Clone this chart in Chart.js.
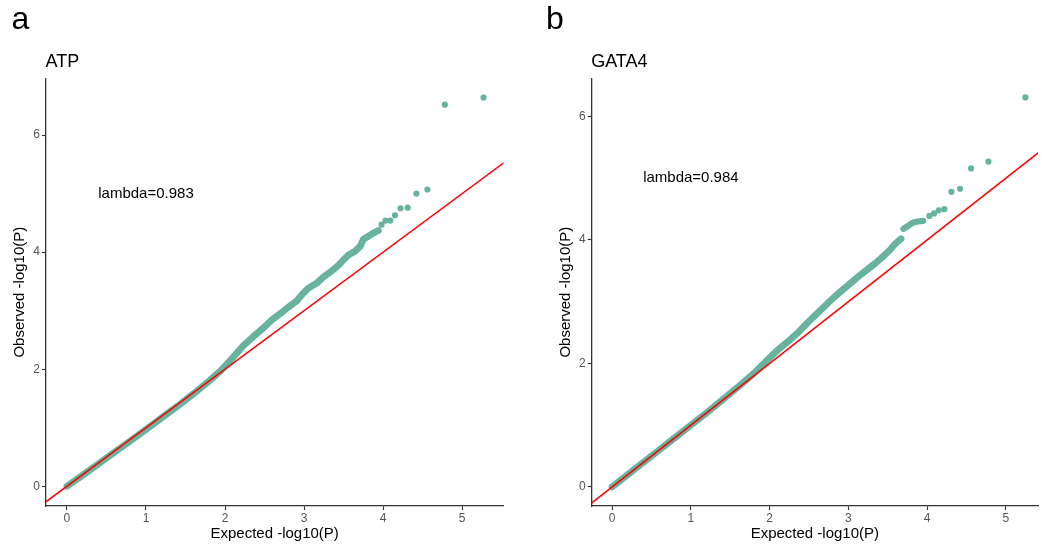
<!DOCTYPE html>
<html>
<head>
<meta charset="utf-8">
<script src="https://cdn.jsdelivr.net/npm/chart.js@4/dist/chart.umd.min.js"></script>
<style>
  html, body { margin: 0; padding: 0; background: #fff; }
  #wrap { position: relative; width: 1042px; height: 550px; overflow: hidden; }
  .panel { position: absolute; top: 0; width: 521px; height: 550px; }
</style>
</head>
<body>
<div id="wrap">
  <div class="panel" style="left:0"><canvas id="chartA" width="521" height="550"></canvas></div>
  <div class="panel" style="left:521px"><canvas id="chartB" width="521" height="550"></canvas></div>
</div>
<script>
// tick labels
const xTicks = [0, 1, 2, 3, 4, 5];
const yTicks = [0, 2, 4, 6];

// ATP: dense part of the QQ band (expected, observed)
const atpDenseX = [0, 0.2, 0.4, 0.6, 0.8, 1.0, 1.2, 1.4, 1.6, 1.8, 1.95, 2.1, 2.23, 2.36, 2.49, 2.59, 2.7, 2.8, 2.91, 2.97, 3.05, 3.16, 3.24, 3.35, 3.43, 3.5, 3.56, 3.64, 3.71, 3.75, 3.81, 3.88, 3.94];
const atpDenseY = [0, 0.19, 0.385, 0.58, 0.775, 0.97, 1.17, 1.37, 1.58, 1.8, 1.98, 2.2, 2.4, 2.56, 2.71, 2.84, 2.95, 3.06, 3.17, 3.27, 3.38, 3.47, 3.57, 3.68, 3.77, 3.87, 3.95, 4.01, 4.1, 4.22, 4.27, 4.33, 4.37];
// ATP: separate top points
const atpTailX = [3.98, 4.03, 4.09, 4.15, 4.22, 4.31, 4.42, 4.56, 4.78, 5.27];
const atpTailY = [4.47, 4.54, 4.54, 4.63, 4.75, 4.76, 5.0, 5.07, 6.52, 6.64];

// GATA4
const gataDenseX = [0, 0.2, 0.4, 0.6, 0.8, 1.0, 1.2, 1.4, 1.6, 1.8, 1.95, 2.08, 2.22, 2.37, 2.49, 2.62, 2.75, 2.87, 3.0, 3.13, 3.23, 3.34, 3.44, 3.53, 3.59, 3.67];
const gataDenseY = [0, 0.2, 0.4, 0.6, 0.8, 1.0, 1.2, 1.41, 1.62, 1.84, 2.03, 2.19, 2.34, 2.51, 2.67, 2.83, 2.99, 3.13, 3.27, 3.41, 3.51, 3.62, 3.73, 3.84, 3.93, 4.02];
const gataStepX = [3.7, 3.76, 3.82, 3.88, 3.95];
const gataStepY = [4.18, 4.23, 4.28, 4.3, 4.31];
const gataTailX = [4.03, 4.09, 4.15, 4.22, 4.31, 4.42, 4.56, 4.78, 5.25];
const gataTailY = [4.39, 4.43, 4.48, 4.5, 4.78, 4.83, 5.16, 5.27, 6.31];

// y = x reference line ends
const diagX = [-0.5, 6];

const FONT = '"Liberation Sans", Arial, sans-serif';
const TEAL = '#67b39d';

const pairs = (xs, ys) => xs.map((v, i) => ({ x: v, y: ys[i] }));

// panel letter, title and lambda note
const panelText = {
    id: 'panelText',
    afterDraw(chart, args, opts) {
        const ctx = chart.ctx;
        const { x, y } = chart.scales;
        ctx.save();
        ctx.fillStyle = '#000';
        ctx.textAlign = 'left';
        ctx.textBaseline = 'alphabetic';
        ctx.font = '32px ' + FONT;
        ctx.fillText(opts.letter, opts.letterX, 29);
        ctx.font = '18px ' + FONT;
        ctx.fillText(opts.title, chart.chartArea.left - 0.5, 66.5);
        ctx.font = '15px ' + FONT;
        ctx.textAlign = 'center';
        ctx.textBaseline = 'middle';
        ctx.fillText(opts.note, x.getPixelForValue(1), y.getPixelForValue(5));
        ctx.restore();
    }
};

function axis(min, max, ticks, title, isX) {
    return {
        type: 'linear',
        min: min,
        max: max,
        afterBuildTicks: s => { s.ticks = ticks.map(v => ({ value: v })); },
        afterFit: s => { if (isX) s.height = 44; else s.width = 46; },
        grid: { drawOnChartArea: false, drawTicks: true, tickLength: 4, tickColor: '#333', tickWidth: 1.1 },
        border: { display: true, color: '#333', width: 1.3 },
        ticks: { color: '#555', font: { size: 12, family: FONT }, padding: isX ? 1 : 2, maxRotation: 0, autoSkip: false },
        title: {
            display: true, text: title, color: '#000', font: { size: 15, family: FONT },
            padding: isX ? { top: 0, bottom: 7 } : { top: 11, bottom: 0 }
        }
    };
}

function makePanel(id, p) {
    const ctx = document.getElementById(id).getContext('2d');
    return new Chart(ctx, {
        type: 'scatter',
        data: {
            datasets: [
                { data: pairs(diagX, diagX), showLine: true, borderColor: '#ff0000', borderWidth: 1.5, pointRadius: 0, clip: 0, order: 0 },
                { data: pairs(p.denseX, p.denseY), showLine: true, borderColor: TEAL, borderWidth: 6.8, borderCapStyle: 'round', borderJoinStyle: 'round', pointRadius: 0, order: 1 },
                { data: pairs(p.stepX, p.stepY), showLine: true, borderColor: TEAL, borderWidth: 6.2, borderCapStyle: 'round', borderJoinStyle: 'round', pointRadius: 0, order: 1 },
                { data: pairs(p.tailX, p.tailY), showLine: false, backgroundColor: TEAL, pointBackgroundColor: TEAL, pointBorderWidth: 0, pointRadius: 3.1, order: 1 }
            ]
        },
        options: {
            responsive: false,
            animation: false,
            layout: { padding: p.padding },
            plugins: {
                legend: { display: false },
                tooltip: { enabled: false },
                panelText: { letter: p.letter, letterX: p.letterX, title: p.title, note: p.note }
            },
            scales: {
                x: axis(p.xMin, p.xMax, xTicks, 'Expected -log10(P)', true),
                y: axis(p.yMin, p.yMax, yTicks, 'Observed -log10(P)', false)
            }
        },
        plugins: [panelText]
    });
}

makePanel('chartA', {
    letter: 'a', letterX: 11.5, title: 'ATP', note: 'lambda=0.983',
    denseX: atpDenseX, denseY: atpDenseY, stepX: [], stepY: [],
    tailX: atpTailX, tailY: atpTailY,
    xMin: -0.265, xMax: 5.52, yMin: -0.337, yMax: 6.97,
    padding: { left: 0, right: 17.7, top: 78.3, bottom: 0 }
});

makePanel('chartB', {
    letter: 'b', letterX: 25, title: 'GATA4', note: 'lambda=0.984',
    denseX: gataDenseX, denseY: gataDenseY, stepX: gataStepX, stepY: gataStepY,
    tailX: gataTailX, tailY: gataTailY,
    xMin: -0.26, xMax: 5.41, yMin: -0.31, yMax: 6.62,
    padding: { left: 24.7, right: 1, top: 78.3, bottom: 0 }
});
</script>
</body>
</html>
